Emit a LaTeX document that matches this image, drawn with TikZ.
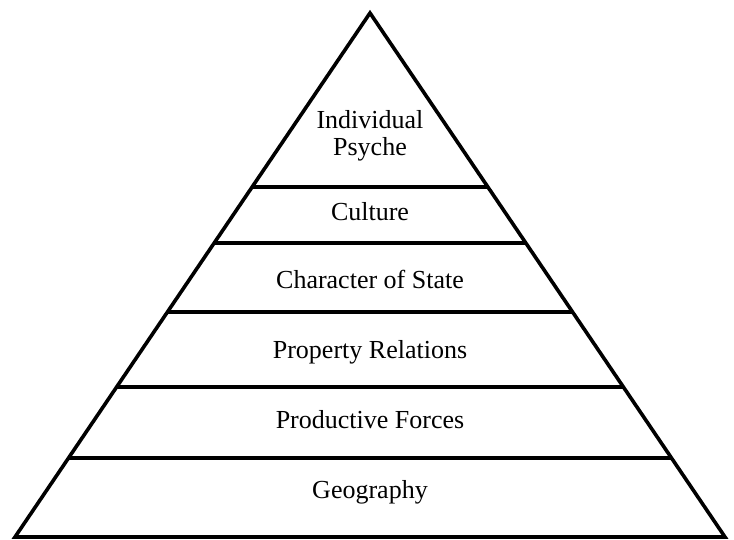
\documentclass[tikz,border=0pt]{standalone}
\usepackage{fontspec}
\setmainfont{Liberation Serif}
\usetikzlibrary{calc}
\tikzset{
  edge/.style={line width=3.6pt, draw=black},
  tier/.style={line width=4pt, draw=black},
  lbl/.style={anchor=base, align=center, inner sep=0pt, font=\fontsize{26}{27}\selectfont},
}
\begin{document}
\begin{tikzpicture}[x=1pt, y=-1pt]
    \useasboundingbox (0,0) rectangle (734,539);
    \coordinate (apex) at (370,13);
    \coordinate (baseL) at (15,537);
    \coordinate (baseR) at (725,537);
    % the tiers, cut off where they meet the slopes
    \foreach \y/\n in {187/1,243/2,312/3,387/4,458/5} {
      \coordinate (tier\n-west) at ($(apex)!{(\y-13)/524}!(baseL)$);
      \coordinate (tier\n-east) at ($(apex)!{(\y-13)/524}!(baseR)$);
      \draw[tier] (tier\n-west) -- (tier\n-east);
    }
    \draw[edge] (baseL) -- (apex) -- (baseR) -- cycle;
    % labels, bottom up
    \node[lbl] (geo) at (370,498) {Geography};
    \node[lbl] (prod) at (370,428) {Productive Forces};
    \node[lbl] (prop) at (370,358) {Property Relations};
    \node[lbl] (state) at (370,288) {Character of State};
    \node[lbl] (cult) at (370,220) {Culture};
    \node[lbl] (psy) at (370,155) {Individual\\Psyche};
\end{tikzpicture}
\end{document}
